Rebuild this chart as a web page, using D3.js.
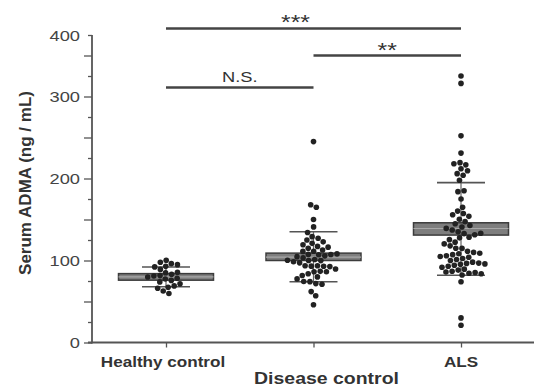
<!DOCTYPE html>
<html>
<head>
<meta charset="utf-8">
<script src="https://cdn.jsdelivr.net/npm/d3@7"></script>
<style>
  body { margin: 0; background: #fff; }
  svg { display: block; font-family: "Liberation Sans", Arial, sans-serif; }
</style>
</head>
<body>
<div id="chart"></div>
<script>
const categories = ['Healthy control', 'Disease control', 'ALS'];

// serum ADMA values (ng / mL)
const healthyValues = [100, 98, 96, 95, 93, 92, 88, 85, 84, 83, 82, 81, 80, 79, 78, 76, 74, 72, 70, 67, 66, 63, 60];
const diseaseValues = [245, 168, 165, 150, 141, 134, 129, 127, 125, 123, 120, 119, 117, 116, 114, 113, 111, 110, 108,
  108, 107, 106, 105, 104, 103, 102, 101, 100, 99, 98, 97, 96, 95, 94, 92, 91, 90, 88, 87, 86, 84, 82, 80, 78, 76,
  74, 72, 71, 62, 57, 46];
const alsValues = [325, 316, 252, 231, 219, 218, 216, 212, 210, 206, 204, 198, 185, 184, 175, 164, 160, 158, 156, 154,
  150, 147, 145, 143, 141, 139, 137, 135, 133, 131, 131, 130, 128, 125, 123, 120, 118, 115, 113, 111, 110, 109, 108,
  106, 105, 104, 103, 102, 101, 100, 99, 98, 97, 96, 95, 94, 92, 91, 90, 89, 88, 87, 86, 85, 84, 84, 74, 30, 21];

// box (mean +/- SE) and whiskers (mean +/- SD), per category
const boxLow = [76, 100, 131];
const boxHigh = [84, 109, 146];
const boxMid = [80, 104, 139];
const whiskerLow = [68, 74, 82];
const whiskerHigh = [92, 135, 195];

// significance brackets
const compFrom = [0, 1, 0];
const compTo = [2, 2, 1];
const compLevel = [383, 350, 311];
const compLabel = ['***', '**', 'N.S.'];

// y axis ticks (the top tick of the original is labelled 400)
const yMajorTicks = [0, 50, 100, 150, 200, 250, 300, 350];
const yMinorTicks = [25, 75, 125, 175, 225, 275, 325, 375];
const yLabelTicks = [0, 100, 200, 300, 375];
const yLabelText = ['0', '100', '200', '300', '400'];

const WIDTH = 534;
const HEIGHT = 387;
const AXIS_X = 92;
const STRETCH = 1.18; // the source figure is a bit wider than tall
const INK = '#333';

const svg = d3.select('#chart').append('svg').attr('width', WIDTH).attr('height', HEIGHT);

const y = d3.scaleLinear().domain([0, 375]).range([342.5, 35]);
const x = d3.scalePoint().domain(categories).range([166, 461]);

function stretchedText(g, tx, ty, str, size, weight, anchor) {
  return g
    .append('text')
    .attr('transform', `translate(${tx},${ty}) scale(${STRETCH},1)`)
    .attr('text-anchor', anchor || 'middle')
    .attr('font-size', size)
    .attr('font-weight', weight || 'normal')
    .attr('fill', INK)
    .text(str);
}

// y axis
const yAxisG = svg.append('g').attr('transform', `translate(${AXIS_X},0)`);
yAxisG
  .append('g')
  .call(d3.axisLeft(y).tickValues(yMajorTicks).tickSize(8).tickFormat(''))
  .call((g) => g.select('.domain').remove());
yAxisG
  .append('g')
  .call(d3.axisLeft(y).tickValues(yMinorTicks).tickSize(4).tickFormat(''))
  .call((g) => g.select('.domain').remove());
yAxisG.selectAll('line').attr('stroke', '#555').attr('stroke-width', 1.3);
yAxisG
  .append('line')
  .attr('y1', y(0) + 1)
  .attr('y2', y(375))
  .attr('stroke', '#555')
  .attr('stroke-width', 1.8);
yLabelTicks.forEach((v, i) => {
  stretchedText(yAxisG, -12, y(v) + 5.5, yLabelText[i], 15.5, 'normal', 'end').attr('fill', '#444');
});

svg
  .append('text')
  .attr('transform', `translate(31,183) rotate(-90)`)
  .attr('text-anchor', 'middle')
  .attr('font-size', 17)
  .attr('font-weight', 'bold')
  .attr('fill', INK)
  .text('Serum ADMA (ng / mL)');

// x axis
const xAxisG = svg.append('g').attr('transform', `translate(0,${y(0)})`);
xAxisG
  .call(d3.axisBottom(x).tickSize(5).tickFormat(''))
  .call((g) => g.select('.domain').remove());
xAxisG.selectAll('line').attr('stroke', '#555').attr('stroke-width', 1.3);
xAxisG.append('line').attr('x1', AXIS_X - 4).attr('x2', WIDTH).attr('stroke', '#555').attr('stroke-width', 1.8);

stretchedText(svg, x(categories[0]) - 3, 367, categories[0], 14.5, 'bold');
stretchedText(svg, x(categories[1]) + 13, 384, categories[1], 16.5, 'bold');
stretchedText(svg, x(categories[2]), 367, categories[2], 14.5, 'bold');

// boxes and whiskers
const plot = svg.append('g');
const BOX_W = 95;
const CAP_W = 48;
categories.forEach((c, i) => {
  const cx = x(c);
  plot
    .append('line')
    .attr('x1', cx)
    .attr('x2', cx)
    .attr('y1', y(whiskerLow[i]))
    .attr('y2', y(whiskerHigh[i]))
    .attr('stroke', '#666')
    .attr('stroke-width', 1.2);
  [whiskerLow[i], whiskerHigh[i]].forEach((w) => {
    plot
      .append('line')
      .attr('x1', cx - CAP_W / 2)
      .attr('x2', cx + CAP_W / 2)
      .attr('y1', y(w))
      .attr('y2', y(w))
      .attr('stroke', '#555')
      .attr('stroke-width', 1.6);
  });
  plot
    .append('rect')
    .attr('x', cx - BOX_W / 2)
    .attr('width', BOX_W)
    .attr('y', y(boxHigh[i]))
    .attr('height', y(boxLow[i]) - y(boxHigh[i]))
    .attr('fill', '#7e7e7e')
    .attr('stroke', '#3c3c3c')
    .attr('stroke-width', 1.5);
  plot
    .append('line')
    .attr('x1', cx - BOX_W / 2)
    .attr('x2', cx + BOX_W / 2)
    .attr('y1', y(boxMid[i]))
    .attr('y2', y(boxMid[i]))
    .attr('stroke', '#a8a8a8')
    .attr('stroke-width', 1.2);
});

// dots, spread sideways with a small beeswarm
const groups = [healthyValues, diseaseValues, alsValues];
const nodes = [];
groups.forEach((vals, i) => {
  vals.forEach((v) => nodes.push({ cat: categories[i], value: v, x: x(categories[i]), y: y(v) }));
});
const sim = d3
  .forceSimulation(nodes)
  .force('x', d3.forceX((d) => x(d.cat)).strength(0.03))
  .force('y', d3.forceY((d) => y(d.value)).strength(1))
  .force('collide', d3.forceCollide(3.1))
  .stop();
for (let i = 0; i < 250; i++) sim.tick();

plot
  .append('g')
  .selectAll('circle')
  .data(nodes)
  .enter()
  .append('circle')
  .attr('cx', (d) => d.x)
  .attr('cy', (d) => d.y)
  .attr('r', 2.8)
  .attr('fill', '#222');

// significance brackets
const brackets = svg.append('g');
compLabel.forEach((lab, i) => {
  const x1 = x(categories[compFrom[i]]);
  const x2 = x(categories[compTo[i]]);
  const ly = y(compLevel[i]);
  brackets
    .append('line')
    .attr('x1', x1)
    .attr('x2', x2)
    .attr('y1', ly)
    .attr('y2', ly)
    .attr('stroke', '#444')
    .attr('stroke-width', 2.6);
  const isStars = lab.indexOf('*') === 0;
  // the *** label sits left of its bar's middle in the original
  const lx = i === 0 ? (x1 + x2) / 2 - 18 : (x1 + x2) / 2;
  stretchedText(brackets, lx, isStars ? ly + 1 : ly - 5, lab, isStars ? 21 : 15.5, 'normal');
});
</script>
</body>
</html>
